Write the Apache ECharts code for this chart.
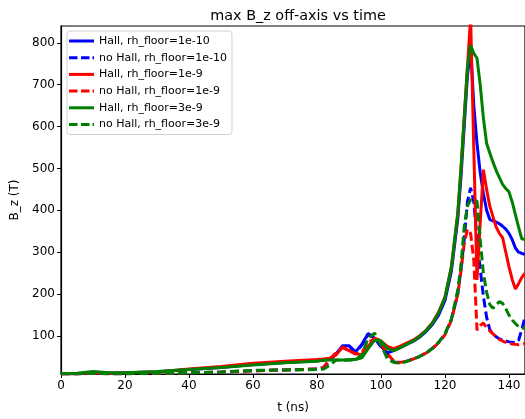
<!DOCTYPE html>
<html>
<head>
<meta charset="utf-8">
<script src="https://cdn.jsdelivr.net/npm/echarts@6/dist/echarts.min.js"></script>
<style>
  html, body { margin: 0; padding: 0; background: #fff; }
  #chart { width: 525px; height: 419px; }
</style>
</head>
<body>
<div id="chart"></div>
<script>
// time samples (ns)
const times = [0, 5, 10, 15, 20, 30, 40, 50, 60, 70, 80, 82, 84, 86, 88, 90, 92, 94, 96, 98,
    100, 102, 104, 106, 108, 110, 112, 114, 116, 118, 120, 122, 124, 125, 126, 127, 128, 129,
    130, 131, 132, 133, 134, 135, 136, 137, 138, 139, 140, 141, 142, 143, 144, 145];

const hall1e10 = [10, 10, 12, 11, 12, 14, 20, 25, 32, 37, 41, 42, 45, 58, 77, 77, 62, 80, 106, 95,
    75, 60, 65, 72, 80, 87, 97, 110, 127, 150, 185, 255, 380, 480, 600, 720, 790, 650,
    560, 490, 440, 400, 378, 375, 372, 368, 362, 355, 345, 330, 310, 300, 297, 295];

const noHall1e10 = [10, 10, 11, 10, 10, 11, 12, 14, 17, 19, 21, 24, 40, 58, 74, 74, 60, 78, 104, 95,
    75, 55, 38, 36, 40, 45, 51, 59, 70, 85, 105, 140, 200, 260, 330, 420, 454, 420,
    330, 260, 195, 145, 115, 105, 98, 93, 90, 88, 86, 85, 84, 90, 115, 145];

const hall1e9 = [10, 10, 12, 11, 12, 14, 21, 27, 35, 40, 44, 45, 47, 55, 74, 65, 58, 55, 75, 95,
    88, 75, 70, 76, 83, 90, 100, 113, 131, 157, 193, 265, 390, 500, 620, 740, 860, 547,
    234, 370, 497, 450, 410, 385, 360, 345, 335, 300, 265, 235, 212, 225, 240, 250];

const noHall1e9 = [10, 10, 11, 10, 10, 11, 12, 14, 17, 19, 21, 25, 45, 60, 72, 65, 57, 60, 85, 93,
    80, 58, 40, 37, 40, 45, 51, 59, 69, 84, 103, 138, 200, 255, 320, 355, 345, 281,
    114, 125, 131, 120, 112, 105, 98, 92, 88, 85, 83, 81, 80, 79, 80, 82];

const hall3e9 = [10, 11, 15, 12, 12, 15, 20, 25, 31, 36, 40, 42, 43, 43, 43, 44, 44, 48, 70, 90,
    88, 70, 65, 72, 80, 88, 98, 112, 130, 155, 192, 265, 395, 500, 620, 740, 794, 775,
    763, 700, 620, 560, 537, 515, 495, 478, 462, 452, 444, 420, 390, 360, 332, 330];

const noHall3e9 = [10, 10, 11, 10, 10, 11, 12, 14, 18, 19, 20, 21, 30, 43, 42, 42, 43, 55, 95, 107,
    80, 45, 37, 35, 39, 45, 51, 59, 70, 85, 105, 140, 210, 270, 360, 410, 425, 425,
    422, 330, 250, 205, 175, 166, 175, 182, 178, 165, 150, 138, 130, 122, 119, 118];

const xTicks = [0, 20, 40, 60, 80, 100, 120, 140];
const yTicks = [100, 200, 300, 400, 500, 600, 700, 800];

const font = 'DejaVu Sans';

// legend handles drawn like matplotlib's line handles
const solidIcon = 'path://M0,0h25v3h-25z';
const dashIcon = 'path://M0,0h8.5v3h-8.5zM12,0h8.5v3h-8.5zM23.5,0h1.5v3h-1.5z';

function pairs(values) {
    return times.map(function (t, i) { return [t, values[i]]; });
}

function makeSeries(name, values, color, dashed) {
    return {
        name: name,
        type: 'line',
        data: pairs(values),
        symbol: 'none',
        animation: false,
        lineStyle: {
            color: color,
            width: 3,
            type: dashed ? [9, 4] : 'solid',
            cap: 'butt'
        },
        itemStyle: { color: color }
    };
}

var chartDom = document.getElementById('chart');
var myChart = echarts.init(chartDom, null, { renderer: 'canvas' });
var option;

option = {
    animation: false,
    backgroundColor: '#fff',
    textStyle: { fontFamily: font, color: '#000' },
    title: {
        text: 'max B_z off-axis vs time',
        left: 293,
        textAlign: 'center',
        top: 4,
        textStyle: { fontFamily: font, fontSize: 14.4, fontWeight: 'normal', color: '#000' }
    },
    legend: {
        orient: 'vertical',
        left: 67,
        top: 31,
        padding: [3, 5, 3, 2],
        itemWidth: 25,
        itemHeight: 14,
        itemGap: 2.7,
        backgroundColor: 'rgba(255,255,255,0.85)',
        borderColor: '#d0d0d0',
        borderWidth: 1,
        borderRadius: 3,
        textStyle: { fontFamily: font, fontSize: 11, color: '#000', lineHeight: 14 },
        data: [
            { name: 'Hall, rh_floor=1e-10', icon: solidIcon },
            { name: 'no Hall, rh_floor=1e-10', icon: dashIcon },
            { name: 'Hall, rh_floor=1e-9', icon: solidIcon },
            { name: 'no Hall, rh_floor=1e-9', icon: dashIcon },
            { name: 'Hall, rh_floor=3e-9', icon: solidIcon },
            { name: 'no Hall, rh_floor=3e-9', icon: dashIcon }
        ]
    },
    grid: {
        left: 61,
        right: 0,
        top: 26,
        bottom: 45,
        show: true,
        borderColor: '#000',
        borderWidth: 1.2,
        containLabel: false
    },
    xAxis: {
        type: 'value',
        min: 0,
        max: 145,
        name: 't (ns)',
        nameLocation: 'middle',
        nameGap: 28,
        nameTextStyle: { fontFamily: font, fontSize: 12, color: '#000' },
        axisLine: { show: true, lineStyle: { color: '#000', width: 1.2 } },
        axisTick: { show: true, inside: false, length: 4, customValues: xTicks, lineStyle: { color: '#000' } },
        axisLabel: { customValues: xTicks, fontFamily: font, fontSize: 12, color: '#000', margin: 6 },
        splitLine: { show: false }
    },
    yAxis: {
        type: 'value',
        min: 9.3,
        max: 840,
        name: 'B_z (T)',
        nameLocation: 'middle',
        nameGap: 40,
        nameRotate: 90,
        nameTextStyle: { fontFamily: font, fontSize: 12, color: '#000' },
        axisLine: { show: true, lineStyle: { color: '#000', width: 1.2 } },
        axisTick: { show: true, inside: false, length: 4, customValues: yTicks, lineStyle: { color: '#000' } },
        axisLabel: { customValues: yTicks, fontFamily: font, fontSize: 12, color: '#000', margin: 6 },
        splitLine: { show: false }
    },
    series: [
        makeSeries('Hall, rh_floor=1e-10', hall1e10, '#0000ff', false),
        makeSeries('no Hall, rh_floor=1e-10', noHall1e10, '#0000ff', true),
        makeSeries('Hall, rh_floor=1e-9', hall1e9, '#ff0000', false),
        makeSeries('no Hall, rh_floor=1e-9', noHall1e9, '#ff0000', true),
        makeSeries('Hall, rh_floor=3e-9', hall3e9, '#008000', false),
        makeSeries('no Hall, rh_floor=3e-9', noHall3e9, '#008000', true)
    ]
};

option && myChart.setOption(option);
</script>
</body>
</html>
